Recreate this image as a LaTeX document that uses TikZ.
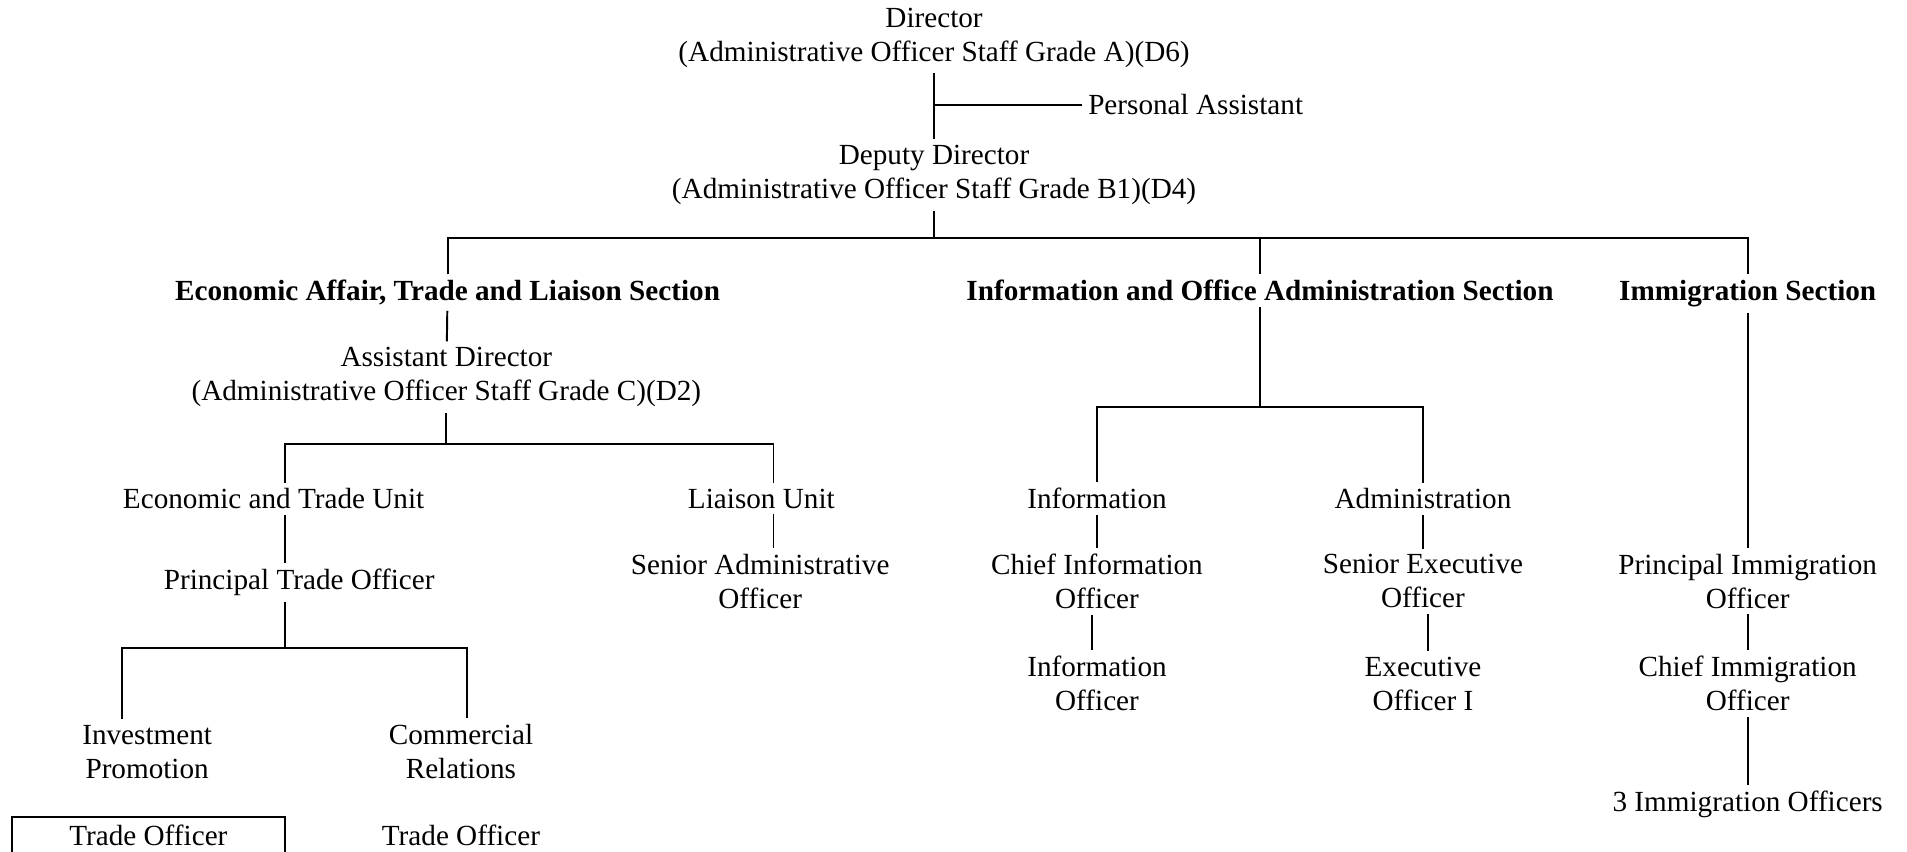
\documentclass[tikz,border=0pt]{standalone}
\usepackage{fontspec}
\setmainfont{Liberation Serif}
\usetikzlibrary{positioning,calc}
\tikzset{unit/.style={align=center, inner sep=2pt, font=\fontsize{12}{14}\selectfont}}
\tikzset{section/.style={unit, anchor=base, font=\fontsize{12}{14}\selectfont\bfseries}}
\tikzset{every path/.style={line width=0.8pt}}

\begin{document}
\begin{tikzpicture}[x=0.5pt,y=-0.5pt]
\useasboundingbox (0,0) rectangle (1568,700);
% director and deputy
\node[unit] (dir) at (768,31) {Director\\(Administrative Officer Staff Grade A)(D6)};
\node[unit] (dep) at (768,144) {Deputy Director\\(Administrative Officer Staff Grade B1)(D4)};
\node[unit, anchor=west] (pa) at (890,86) {Personal Assistant};
\draw (dir) -- (dep);
\draw (dir.south |- pa.west) -- (pa.west);
% sections
\node[section] (eco) at (368,247) {Economic Affair, Trade and Liaison Section};
\node[section] (ioa) at (1036,247) {Information and Office Administration Section};
\node[section] (imm) at (1437,247) {Immigration Section};
\coordinate (bus) at (768,196);
\draw (dep) -- (dep.south |- bus);
\draw (eco.north) |- (bus) -| (imm.north);
\draw (ioa.north) -- (ioa.north |- bus);
% economic affair, trade and liaison
\node[unit] (asd) at (367,310) {Assistant Director\\(Administrative Officer Staff Grade C)(D2)};
\draw (eco) -- (asd);
\node[unit] (etu) at (225,410) {Economic and Trade Unit};
\node[unit] (lia) at (626,410) {Liaison Unit};
\coordinate (bus2) at (367,365);
\draw (asd) -- (bus2);
\draw ([xshift=4.5pt]etu.north) |- (bus2) -| ([xshift=5pt]lia.north);
\node[unit] (pto) at (246,479) {Principal Trade Officer};
\node[unit] (sao) at (625,478) {Senior Administrative\\Officer};
\draw ([xshift=4.5pt]etu.south) -- ([xshift=4.5pt]etu.south |- pto.north);
\draw ([xshift=5pt]lia.south) -- ([xshift=5pt]lia.south |- sao.north);
\node[unit] (inv) at (121,618) {Investment\\Promotion};
\node[unit] (com) at (379,618) {Commercial\\Relations};
\coordinate (bus3) at (234,533);
\draw (pto.south -| bus3) -- (bus3);
\draw ([xshift=-10.5pt]inv.north) |- (bus3) -| ([xshift=2.5pt]com.north);
\node[unit, draw, minimum width=112pt, minimum height=15pt] (tol) at (122,687) {Trade Officer};
\node[unit] (tor) at (379,687) {Trade Officer};
% information and office administration
\coordinate (bus4) at (1036,335);
\draw (ioa) -- (bus4);
\node[unit] (inf) at (902,410) {Information};
\node[unit] (adm) at (1170,410) {Administration};
\draw (inf.north) |- (bus4) -| (adm.north);
\node[unit] (cio) at (902,478) {Chief Information\\Officer};
\node[unit] (seo) at (1170,478) {Senior Executive\\Officer};
\draw (inf) -- (cio);
\draw (adm) -- (seo);
\node[unit] (ino) at (902,562) {Information\\Officer};
\node[unit] (exo) at (1170,562) {Executive\\Officer I};
\draw ([xshift=-2pt]cio.south) -- ([xshift=-2pt]cio.south |- ino.north);
\draw ([xshift=2pt]seo.south) -- ([xshift=2pt]seo.south |- exo.north);
% immigration
\node[unit] (pio) at (1437,478) {Principal Immigration\\Officer};
\node[unit] (cim) at (1437,562) {Chief Immigration\\Officer};
\node[unit] (imo) at (1437,661) {3 Immigration Officers};
\draw (imm) -- (pio);
\draw (pio) -- (cim);
\draw (cim) -- (imo);
\end{tikzpicture}
\end{document}
